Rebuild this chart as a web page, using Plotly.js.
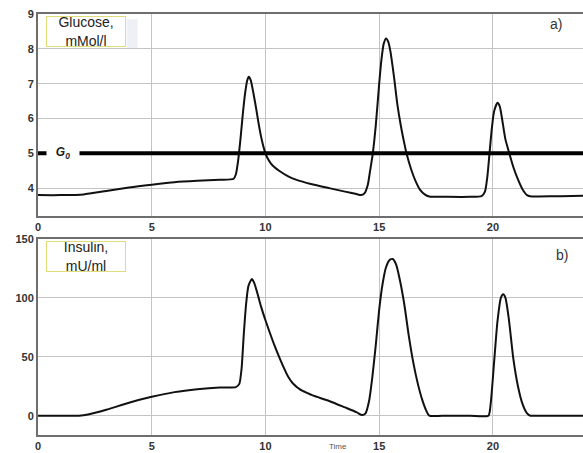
<!DOCTYPE html>
<html>
<head>
<meta charset="utf-8">
<script src="https://cdn.plot.ly/plotly-3.0.1.min.js"></script>
<style>html,body{margin:0;padding:0;background:#fff;}#chart{width:583px;height:453px;}</style>
</head>
<body>
<div id="chart"></div>
<script>
// Glucose (mMol/l) vs time
const glucoseTime = [0,1,2,3,4,5,6,7,8,8.6,8.7,8.8,8.9,9.0,9.1,9.2,9.27,9.35,9.45,9.6,9.7,9.8,9.9,10.0,10.1,10.25,10.4,10.6,11,11.4,12,12.8,13.5,14.0,14.2,14.35,14.5,14.6,14.72,14.85,15.0,15.1,15.2,15.3,15.4,15.5,15.65,15.8,15.95,16.1,16.2,16.4,16.6,16.8,17.0,17.2,18,19,19.5,19.65,19.75,19.85,19.95,20.05,20.2,20.3,20.4,20.55,20.72,20.9,21.1,21.3,21.5,21.7,22,23,24];
const glucose = [3.8,3.8,3.82,3.92,4.02,4.1,4.17,4.21,4.24,4.27,4.4,4.8,5.4,6.1,6.7,7.1,7.2,7.1,6.8,6.25,5.85,5.5,5.22,5.0,4.85,4.7,4.6,4.5,4.34,4.23,4.12,4.0,3.9,3.83,3.8,3.85,4.1,4.5,5.0,5.8,7.0,7.7,8.15,8.3,8.2,7.9,7.2,6.4,5.8,5.3,5.0,4.55,4.2,3.95,3.82,3.76,3.75,3.75,3.77,3.9,4.3,5.0,5.7,6.2,6.45,6.35,6.0,5.4,5.0,4.6,4.25,3.97,3.8,3.76,3.76,3.77,3.78];
// Insulin (mU/ml) vs time
const insulinTime = [0,1,1.8,2.2,3,4,5,6,7,8,8.7,8.85,8.95,9.05,9.15,9.25,9.4,9.5,9.6,9.7,9.8,10.0,10.2,10.4,10.6,10.8,11.0,11.2,11.5,11.8,12.1,12.8,13.5,14.0,14.25,14.4,14.55,14.7,14.85,15.0,15.15,15.3,15.45,15.6,15.75,15.9,16.1,16.3,16.5,16.7,16.9,17.1,17.2,18,19,19.8,19.9,20.05,20.2,20.35,20.45,20.55,20.7,20.9,21.1,21.3,21.5,21.65,22,24];
const insulin = [0,0,0,1,5,11,16,20,22.5,24,24.3,27,40,70,95,110,116,113,107,100,93,81,70,59.5,50,41,33,27.5,22.5,19.5,17,12.5,7,3,0.5,2,12,33,60,90,112,126,132,133,128,116,95,68,45,27,13,3,0,0,0,0,10,45,80,100,103,100,82,48,25,10,2,0,0,0];
// Reference level and tick values
const g0Level = 5;
const xTicks = [0,5,10,15,20];
const glucoseTicks = [4,5,6,7,8,9];
const insulinTicks = [0,50,100,150];

const font = 'Liberation Sans, Arial, sans-serif';
const tickFont = {family: font, size: 11, color: '#333', weight: 'bold'};
const gridColor = '#c4c4c4';
const lineColor = '#6e6e6e';

const xCommon = {
  range: [0, 23.96], tickvals: xTicks, ticktext: xTicks.map(String),
  showgrid: true, gridcolor: gridColor, gridwidth: 1,
  showline: true, linecolor: lineColor, linewidth: 2, mirror: true,
  zeroline: false, ticks: '', tickfont: tickFont, fixedrange: true
};

const traces = [
  {x: glucoseTime, y: glucose, xaxis: 'x', yaxis: 'y', mode: 'lines',
   line: {color: '#111', width: 2, shape: 'spline', smoothing: 0.6}, hoverinfo: 'skip'},
  {x: insulinTime, y: insulin, xaxis: 'x2', yaxis: 'y2', mode: 'lines',
   line: {color: '#111', width: 2, shape: 'spline', smoothing: 0.6}, hoverinfo: 'skip'}
];

const layout = {
  width: 583, height: 453,
  margin: {l: 38, r: 0, t: 14, b: 18},
  paper_bgcolor: '#fff', plot_bgcolor: '#fff',
  showlegend: false,
  font: {family: font},
  xaxis: Object.assign({}, xCommon, {anchor: 'y'}),
  xaxis2: Object.assign({}, xCommon, {anchor: 'y2'}),
  yaxis: {domain: [0.5202, 1], range: [3.2, 9], tickvals: glucoseTicks,
    showgrid: true, gridcolor: gridColor, showline: true, linecolor: lineColor, linewidth: 2,
    zeroline: false, ticks: '', tickfont: tickFont, fixedrange: true},
  yaxis2: {domain: [0, 0.4656], range: [-16.4, 150], tickvals: insulinTicks,
    showgrid: true, gridcolor: gridColor, showline: true, linecolor: lineColor, linewidth: 2,
    zeroline: false, ticks: '', tickfont: tickFont, fixedrange: true},
  shapes: [
    {type: 'line', xref: 'x', yref: 'y', x0: -0.05, x1: 23.96, y0: g0Level, y1: g0Level,
     line: {color: '#000', width: 4}},
    {type: 'rect', xref: 'x', yref: 'y', x0: 3.9, x1: 4.38, y0: 8.0, y1: 8.85,
     fillcolor: '#eef0f5', line: {width: 0}, layer: 'below'}
  ],
  annotations: [
    {xref: 'x', yref: 'y', x: 1.08, y: g0Level, text: '<b><i>G</i></b><sub><b><i>0</i></b></sub>',
     showarrow: false, bgcolor: '#fff', width: 30, font: {family: font, size: 12, color: '#222'}},
    {xref: 'x', yref: 'y', x: 2.13, y: 8.5, text: 'Glucose,<br>mMol/l', showarrow: false,
     bgcolor: '#fff', bordercolor: '#e0dc78', borderwidth: 1, borderpad: 0, width: 78, height: 29,
     font: {family: font, size: 14, color: '#222'}},
    {xref: 'x2', yref: 'y2', x: 2.13, y: 135.1, text: 'Insulin,<br>mU/ml', showarrow: false,
     bgcolor: '#fff', bordercolor: '#e0dc78', borderwidth: 1, borderpad: 0, width: 78, height: 29,
     font: {family: font, size: 14, color: '#222'}},
    {xref: 'x', yref: 'y', x: 22.79, y: 8.71, text: 'a)', showarrow: false,
     font: {family: font, size: 14, color: '#333'}},
    {xref: 'x2', yref: 'y2', x: 23.05, y: 136.4, text: 'b)', showarrow: false,
     font: {family: font, size: 14, color: '#333'}},
    {xref: 'paper', yref: 'paper', x: 0.551, y: -0.0425, yanchor: 'bottom', text: 'Time', showarrow: false,
     font: {family: font, size: 8, color: '#555'}}
  ]
};

Plotly.newPlot('chart', traces, layout, {staticPlot: true, displayModeBar: false});
</script>
</body>
</html>
